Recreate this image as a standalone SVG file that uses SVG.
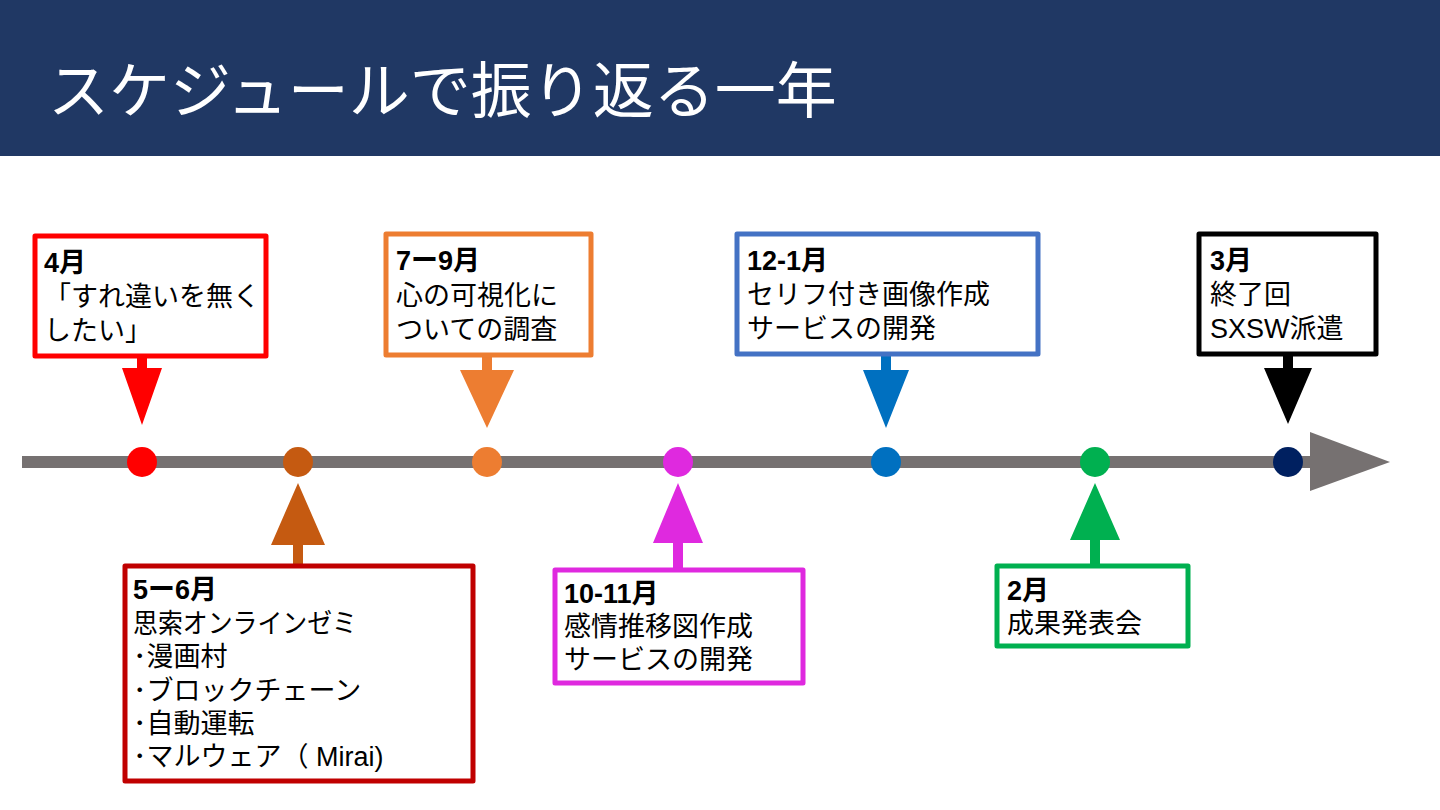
<svg xmlns="http://www.w3.org/2000/svg" width="1440" height="810" viewBox="0 0 1440 810">
<style>
.t{font-family:"Liberation Sans","Noto Sans CJK JP",sans-serif;font-size:27px;fill:#000}
.b{font-weight:bold}
.box{fill:#fff;stroke-width:5;stroke-linejoin:round}
</style>
<rect x="0" y="0" width="1440" height="810" fill="#fff"/>
<g id="header">
<rect x="0" y="0" width="1440" height="156" fill="#203864"/>
<text x="48" y="113" style="font-family:'Liberation Sans','Noto Sans CJK JP',sans-serif;font-size:61px;fill:#fff">スケジュールで振り返る一年</text>
</g>
<g id="connectors">
<rect x="22" y="456" width="1292" height="12" fill="#767171"/>
<polygon points="1310,432 1390,462 1310,491" fill="#767171"/>
<path d="M137,356 h10 v12 h15 l-20,57 l-20,-57 h15 z" fill="#FF0000"/>
<path d="M482,355 h10 v15 h22 l-27,58 l-27,-58 h22 z" fill="#ED7D31"/>
<path d="M881,354 h10 v16 h18 l-23,58 l-23,-58 h18 z" fill="#0070C0"/>
<path d="M1283,354 h10 v14 h19 l-24,56 l-24,-56 h19 z" fill="#000"/>
<path d="M293,566 h10 v-21 h22 l-27,-62 l-27,62 h22 z" fill="#C55A11"/>
<path d="M673,570 h10 v-27 h20 l-25,-60 l-25,60 h20 z" fill="#DF29DF"/>
<path d="M1090,566 h10 v-26 h20 l-25,-57 l-25,57 h20 z" fill="#00B050"/>
</g>
<g id="dots">
<circle cx="142" cy="462" r="15" fill="#FF0000"/>
<circle cx="298" cy="462" r="15" fill="#C55A11"/>
<circle cx="487" cy="462" r="15" fill="#ED7D31"/>
<circle cx="678" cy="462" r="15" fill="#DF29DF"/>
<circle cx="886" cy="462" r="15" fill="#0070C0"/>
<circle cx="1095" cy="462" r="15" fill="#00B050"/>
<circle cx="1288" cy="462" r="15" fill="#002060"/>
</g>
<g id="node-apr">
<rect class="box" x="35" y="236" width="231" height="120" stroke="#FF0000"/>
<text class="t b" x="44" y="272">4月</text>
<text class="t" x="44" y="306">「すれ違いを無く</text>
<text class="t" x="44" y="340">したい」</text>
</g>
<g id="node-jul">
<rect class="box" x="386" y="234" width="205" height="121" stroke="#ED7D31"/>
<text class="t b" x="396" y="270">7ー9月</text>
<text class="t" x="396" y="305">心の可視化に</text>
<text class="t" x="396" y="339">ついての調査</text>
</g>
<g id="node-dec">
<rect class="box" x="737" y="234" width="301" height="120" stroke="#4472C4"/>
<text class="t b" x="747" y="270">12-1月</text>
<text class="t" x="747" y="304">セリフ付き画像作成</text>
<text class="t" x="747" y="338">サービスの開発</text>
</g>
<g id="node-mar">
<rect class="box" x="1199" y="234" width="177" height="120" stroke="#000"/>
<text class="t b" x="1210" y="270">3月</text>
<text class="t" x="1210" y="304">終了回</text>
<text class="t" x="1210" y="338">SXSW派遣</text>
</g>
<g id="node-may">
<rect class="box" x="125" y="566" width="348" height="215" stroke="#C00000"/>
<text class="t b" x="133" y="599">5ー6月</text>
<text class="t" x="133" y="633" textLength="224" lengthAdjust="spacingAndGlyphs">思索オンラインゼミ</text>
<text class="t" x="133" y="666">･漫画村</text>
<text class="t" x="133" y="700">･ブロックチェーン</text>
<text class="t" x="133" y="733">･自動運転</text>
<text class="t" x="133" y="766">･マルウェア（ Mirai)</text>
</g>
<g id="node-oct">
<rect class="box" x="555" y="570" width="248" height="113" stroke="#DF29DF"/>
<text class="t b" x="564" y="603">10-11月</text>
<text class="t" x="564" y="636">感情推移図作成</text>
<text class="t" x="564" y="669">サービスの開発</text>
</g>
<g id="node-feb">
<rect class="box" x="997" y="566" width="191" height="80" stroke="#00B050"/>
<text class="t b" x="1007" y="600">2月</text>
<text class="t" x="1007" y="633">成果発表会</text>
</g>
</svg>
